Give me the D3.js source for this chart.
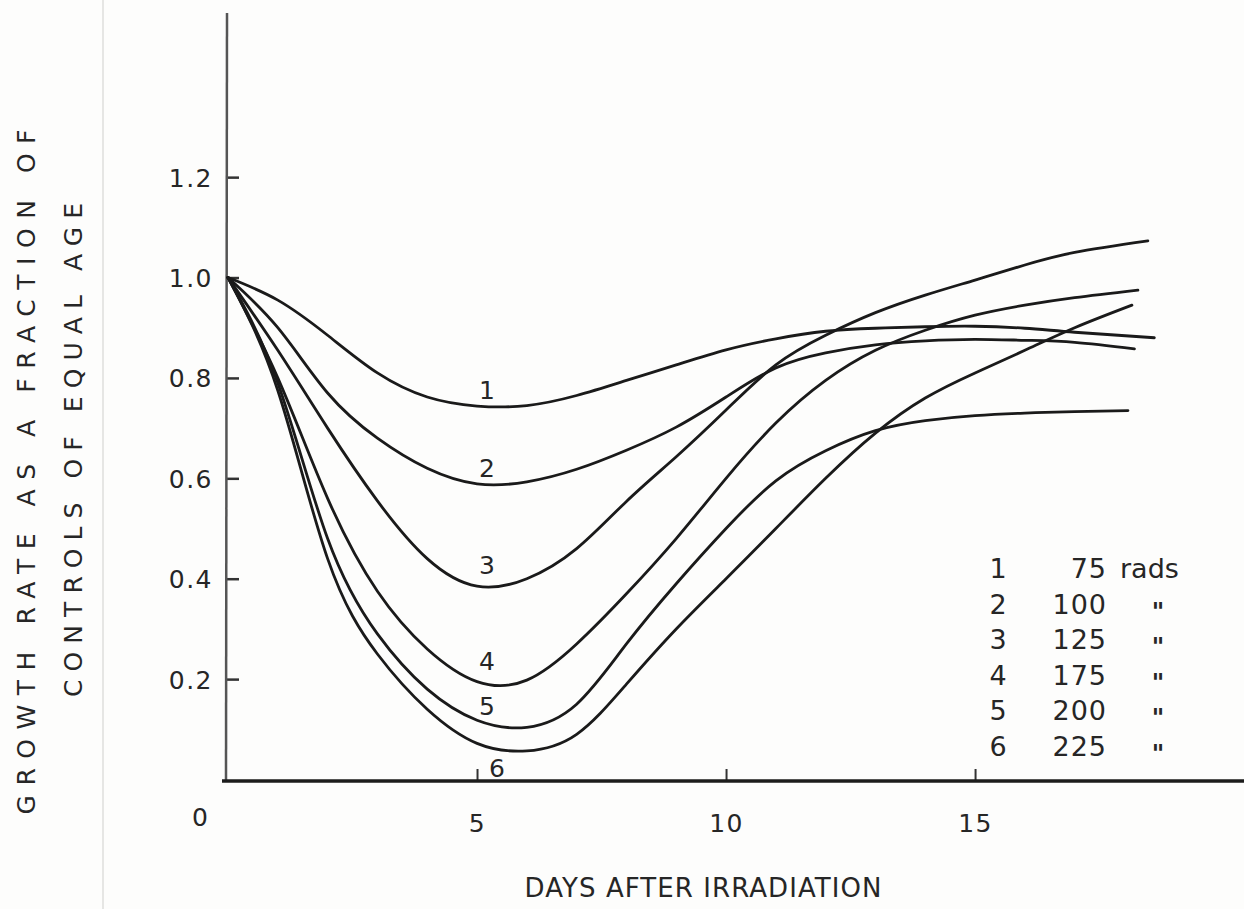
<!DOCTYPE html>
<html>
<head>
<meta charset="utf-8">
<script src="https://cdn.jsdelivr.net/npm/d3@7"></script>
<style>
  body { margin: 0; background: #fdfdfc; }
  svg { display: block; }
  text { font-family: "DejaVu Sans", sans-serif; fill: #262626; }
</style>
</head>
<body>
<div class="canvas"></div>
<script>
// days, each series ends a little past day 18
const days = [0, 1, 2, 3, 4, 5, 6, 7, 8, 9, 10, 11, 12, 13, 14, 15, 16, 17];
const curve1 = [1.0, 0.955, 0.885, 0.81, 0.762, 0.744, 0.745, 0.765, 0.795, 0.826, 0.856, 0.878, 0.893, 0.899, 0.902, 0.903, 0.899, 0.891];
const curve2 = [1.0, 0.90, 0.77, 0.68, 0.62, 0.589, 0.593, 0.618, 0.656, 0.702, 0.762, 0.82, 0.85, 0.866, 0.874, 0.877, 0.875, 0.871];
const curve3 = [1.0, 0.855, 0.70, 0.555, 0.44, 0.385, 0.40, 0.46, 0.554, 0.643, 0.736, 0.826, 0.885, 0.93, 0.965, 0.995, 1.025, 1.05];
const curve4 = [1.0, 0.80, 0.56, 0.375, 0.26, 0.195, 0.198, 0.27, 0.37, 0.48, 0.60, 0.71, 0.795, 0.855, 0.895, 0.925, 0.945, 0.96];
const curve5 = [1.0, 0.79, 0.48, 0.29, 0.18, 0.118, 0.104, 0.15, 0.27, 0.39, 0.50, 0.595, 0.655, 0.695, 0.715, 0.725, 0.73, 0.733];
const curve6 = [1.0, 0.775, 0.44, 0.25, 0.14, 0.072, 0.057, 0.09, 0.19, 0.30, 0.40, 0.50, 0.60, 0.69, 0.76, 0.81, 0.855, 0.90];
const endDays = [18.6, 18.2, 18.47, 18.27, 18.07, 18.15];
const endValues = [0.88, 0.858, 1.073, 0.975, 0.735, 0.945];

const curveNames = ['1', '2', '3', '4', '5', '6'];
const doses = ['75', '100', '125', '175', '200', '225'];
const doseUnits = ['rads', '"', '"', '"', '"', '"'];

const xTicks = [5, 10, 15];
const yTicks = [0.2, 0.4, 0.6, 0.8, 1.0, 1.2];

const allCurves = [curve1, curve2, curve3, curve4, curve5, curve6];

const dims = { width: 1244, height: 909 };

const svg = d3.select('.canvas')
    .append('svg')
    .attr('width', dims.width)
    .attr('height', dims.height);

// faint page edge from the scan
svg.append('line')
    .attr('x1', 103).attr('x2', 103)
    .attr('y1', 0).attr('y2', dims.height)
    .attr('stroke', '#e6e6e4')
    .attr('stroke-width', 2);

const x = d3.scaleLinear().domain([0, 20.4]).range([228, 1244]);
const y = d3.scaleLinear().domain([0, 1.527]).range([779.5, 13]);

// y axis, ticks point inwards
const yAxis = d3.axisLeft(y)
    .tickValues(yTicks)
    .tickSize(-12)
    .tickPadding(14)
    .tickFormat(d3.format('.1f'));

const yg = svg.append('g')
    .attr('transform', `translate(${x(0) - 1},0)`)
    .call(yAxis);
yg.select('.domain').remove();
yg.selectAll('.tick line').attr('stroke', '#333').attr('stroke-width', 2.5);
yg.selectAll('.tick text')
    .attr('font-size', 25)
    .attr('letter-spacing', 1.5)
    .attr('dy', '0.36em');

svg.append('line')
    .attr('x1', x(0) - 1).attr('x2', x(0) - 2)
    .attr('y1', y.range()[1]).attr('y2', 782)
    .attr('stroke', '#555')
    .attr('stroke-width', 2.5);

// x axis
const xAxis = d3.axisBottom(x)
    .tickValues(xTicks)
    .tickSize(-12)
    .tickPadding(33)
    .tickFormat(d3.format('d'));

const xg = svg.append('g')
    .attr('transform', 'translate(0,781)')
    .call(xAxis);
xg.select('.domain').remove();
xg.selectAll('.tick line').attr('stroke', '#333').attr('stroke-width', 2);
xg.selectAll('.tick text')
    .attr('font-size', 25)
    .attr('letter-spacing', 1.5)
    .attr('fill', '#262626');

svg.append('line')
    .attr('x1', x(0) - 6).attr('x2', dims.width)
    .attr('y1', 781).attr('y2', 781)
    .attr('stroke', '#1c1c1c')
    .attr('stroke-width', 3.5);

svg.append('text')
    .attr('x', 200).attr('y', 826)
    .attr('text-anchor', 'middle')
    .attr('font-size', 25)
    .text('0');

// axis titles
svg.append('text')
    .attr('x', 703).attr('y', 897)
    .attr('text-anchor', 'middle')
    .attr('font-size', 26)
    .attr('textLength', 357)
    .attr('lengthAdjust', 'spacing')
    .text('DAYS AFTER IRRADIATION');

svg.append('text')
    .attr('transform', 'translate(35,472) rotate(-90)')
    .attr('text-anchor', 'middle')
    .attr('font-size', 25)
    .attr('textLength', 685)
    .attr('lengthAdjust', 'spacing')
    .text('GROWTH RATE AS A FRACTION OF');

svg.append('text')
    .attr('transform', 'translate(82,450) rotate(-90)')
    .attr('text-anchor', 'middle')
    .attr('font-size', 25)
    .attr('textLength', 494)
    .attr('lengthAdjust', 'spacing')
    .text('CONTROLS OF EQUAL AGE');

// curves
const line = d3.line()
    .x(d => x(d[0]))
    .y(d => y(d[1]))
    .curve(d3.curveNatural);

const series = allCurves.map((vals, i) => {
    const pts = days.map((d, j) => [d, vals[j]]);
    pts.push([endDays[i], endValues[i]]);
    return { name: curveNames[i], pts: pts };
});

svg.append('g')
    .selectAll('path')
    .data(series)
    .enter()
    .append('path')
    .attr('d', d => line(d.pts))
    .attr('fill', 'none')
    .attr('stroke', '#1a1a1a')
    .attr('stroke-width', 2.8)
    .attr('stroke-linecap', 'round');

// number beside each trough
svg.append('g')
    .selectAll('text')
    .data(series)
    .enter()
    .append('text')
    .attr('x', (d, i) => x(5.2) + (i === 5 ? 10 : 0))
    .attr('y', (d, i) => {
        const low = d3.min(d.pts, p => p[1]);
        return i === 5 ? y(low) + 26 : y(low) - (i < 2 ? 7 : 12);
    })
    .attr('text-anchor', 'middle')
    .attr('font-size', 25)
    .text(d => d.name);

// legend
const legend = svg.append('g');
const rowY = i => 578 + i * 35.5;

legend.selectAll('.num')
    .data(curveNames)
    .enter()
    .append('text')
    .attr('x', 998).attr('y', (d, i) => rowY(i))
    .attr('text-anchor', 'middle')
    .attr('font-size', 27)
    .text(d => d);

legend.selectAll('.dose')
    .data(doses)
    .enter()
    .append('text')
    .attr('x', 1107).attr('y', (d, i) => rowY(i))
    .attr('text-anchor', 'end')
    .attr('font-size', 27)
    .attr('letter-spacing', 1)
    .text(d => d);

legend.selectAll('.unit')
    .data(doseUnits)
    .enter()
    .append('text')
    .attr('x', (d, i) => i === 0 ? 1120 : 1158)
    .attr('y', (d, i) => i === 0 ? rowY(i) : rowY(i) + 6)
    .attr('text-anchor', (d, i) => i === 0 ? 'start' : 'middle')
    .attr('font-size', (d, i) => i === 0 ? 27 : 24)
    .attr('font-weight', (d, i) => i === 0 ? 'normal' : 'bold')
    .text(d => d);
</script>
</body>
</html>
